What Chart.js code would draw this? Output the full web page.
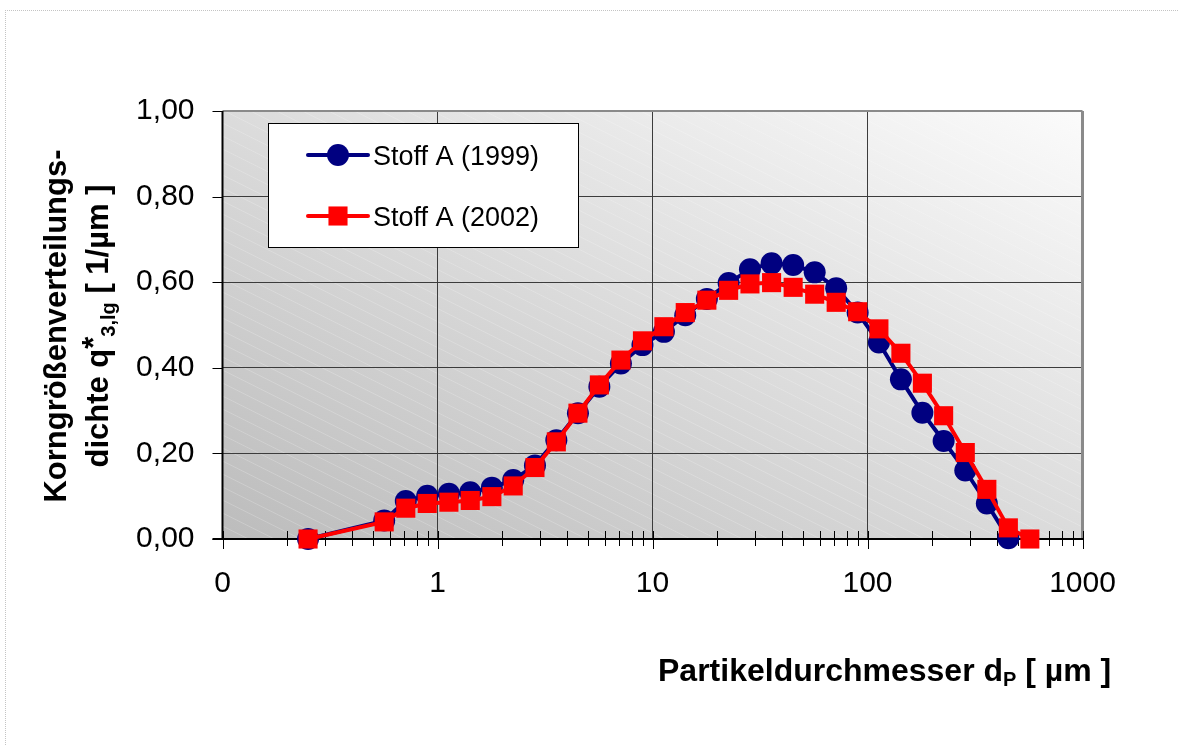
<!DOCTYPE html>
<html lang="de">
<head>
<meta charset="utf-8">
<title>Korngrößenverteilung Stoff A</title>
<script src="https://cdn.jsdelivr.net/npm/chart.js@4/dist/chart.umd.min.js"></script>
<style>
  html, body { margin: 0; padding: 0; background: #fff; overflow: hidden; }
  #frame { position: absolute; left: 5px; top: 10px; width: 1300px; height: 900px;
           border-left: 1px dotted #c4c4c4; border-top: 1px dotted #c4c4c4; }
  #wrap { position: absolute; left: 0; top: 0; width: 1178px; height: 745px; }
</style>
</head>
<body>
<div id="frame"></div>
<div id="wrap"><canvas id="chart" width="1178" height="745"></canvas></div>
<script>
// particle diameters in µm
const diameters1999 = [0.25, 0.565, 0.712, 0.896, 1.13, 1.42, 1.79, 2.25, 2.84, 3.57, 4.5, 5.66, 7.13, 8.98,
  11.3, 14.2, 17.9, 22.6, 28.4, 35.8, 45.1, 56.8, 71.5, 90.0, 113, 143, 180, 226, 285, 359, 452]
const diameters2002 = [0.25, 0.565, 0.712, 0.896, 1.13, 1.42, 1.79, 2.25, 2.84, 3.57, 4.5, 5.66, 7.13, 8.98,
  11.3, 14.2, 17.9, 22.6, 28.4, 35.8, 45.1, 56.8, 71.5, 90.0, 113, 143, 180, 226, 285, 359, 452, 569]

// density q*3,lg in 1/µm
const density1999 = [0, 0.043, 0.089, 0.101, 0.106, 0.109, 0.120, 0.138, 0.172, 0.231, 0.294, 0.356, 0.410, 0.453,
  0.484, 0.523, 0.561, 0.598, 0.630, 0.644, 0.640, 0.623, 0.586, 0.529, 0.459, 0.373, 0.295, 0.229, 0.160, 0.083, 0.002]
const density2002 = [0, 0.040, 0.072, 0.083, 0.086, 0.090, 0.099, 0.124, 0.167, 0.227, 0.294, 0.360, 0.418, 0.463,
  0.496, 0.529, 0.558, 0.581, 0.596, 0.599, 0.588, 0.572, 0.553, 0.531, 0.491, 0.434, 0.364, 0.288, 0.202, 0.116, 0.026, 0]

const seriesNames = ['Stoff A (1999)', 'Stoff A (2002)']
const xMajorTicks = [0.1, 1, 10, 100, 1000]
const xTickLabels = ['0', '1', '10', '100', '1000']
const yMin = 0, yMax = 1, yStep = 0.2

const FONT = "'Liberation Sans', Arial, sans-serif"

const toPoints = (xs, ys) => xs.map((x, i) => ({ x, y: ys[i] }))

// draws a run of text pieces (sub/superscripts) starting at x, baseline y
function drawRich(ctx, parts, x, y) {
  let cx = x
  parts.forEach(p => {
    ctx.font = p.font
    ctx.fillText(p.text, cx, y + (p.dy || 0))
    cx += ctx.measureText(p.text).width
  })
}

function richWidth(ctx, parts) {
  return parts.reduce((w, p) => { ctx.font = p.font; return w + ctx.measureText(p.text).width }, 0)
}

const plotDecor = {
  id: 'plotDecor',
  beforeDraw(chart) {
    const { ctx, chartArea: a } = chart
    const w = a.right - a.left, h = a.bottom - a.top
    const len = Math.hypot(w, h)
    const reach = 2 * w * h / len
    ctx.save()
    const g = ctx.createLinearGradient(a.left, a.bottom, a.left + h / len * reach, a.bottom - w / len * reach)
    g.addColorStop(0, '#bcbcbc')
    g.addColorStop(1, '#fbfbfb')
    ctx.fillStyle = g
    ctx.fillRect(a.left, a.top, w, h)
    // faint diagonal hatching
    ctx.beginPath()
    ctx.rect(a.left, a.top, w, h)
    ctx.clip()
    ctx.beginPath()
    ctx.strokeStyle = 'rgba(255,255,255,0.2)'
    ctx.lineWidth = 1
    for (let c = -w * 0.5; c < h; c += 13) {
      ctx.moveTo(a.left, a.top + c)
      ctx.lineTo(a.right, a.top + c + w * 0.5)
    }
    ctx.stroke()
    ctx.restore()
  },
  beforeDatasetsDraw(chart) {
    const { ctx, chartArea: a, scales: { x, y } } = chart
    ctx.save()
    ctx.strokeStyle = '#8a8a8a'
    ctx.lineWidth = 2
    ctx.beginPath(); ctx.moveTo(a.left, a.top); ctx.lineTo(a.right, a.top); ctx.stroke()
    ctx.lineWidth = 3
    ctx.beginPath(); ctx.moveTo(a.right, a.top); ctx.lineTo(a.right, a.bottom); ctx.stroke()

    ctx.strokeStyle = '#000'
    ctx.lineWidth = 1
    ctx.beginPath()
    x.ticks.forEach(t => {
      const px = Math.round(x.getPixelForValue(t.value)) + 0.5
      ctx.moveTo(px, a.bottom - 8)
      ctx.lineTo(px, a.bottom + (t.major ? 10 : 7))
    })
    y.ticks.forEach(t => {
      const py = Math.round(y.getPixelForValue(t.value)) + 0.5
      ctx.moveTo(a.left - 10, py)
      ctx.lineTo(a.left, py)
    })
    ctx.stroke()
    ctx.lineWidth = 2
    ctx.beginPath()
    ctx.moveTo(a.left, a.top); ctx.lineTo(a.left, a.bottom)
    ctx.moveTo(a.left - 10, a.bottom); ctx.lineTo(a.right + 1, a.bottom)
    ctx.stroke()
    ctx.restore()
  },
  afterDraw(chart) {
    const { ctx } = chart
    ctx.save()
    ctx.fillStyle = '#000'
    ctx.textBaseline = 'alphabetic'

    // legend box
    const bx = 268, by = 123, bw = 310, bh = 124
    ctx.fillStyle = '#fff'
    ctx.fillRect(bx, by, bw, bh)
    ctx.strokeStyle = '#000'
    ctx.lineWidth = 1
    ctx.strokeRect(bx + 0.5, by + 0.5, bw, bh)
    chart.data.datasets.forEach((ds, i) => {
      const ly = by + 32 + i * 61
      ctx.strokeStyle = ds.borderColor
      ctx.lineWidth = ds.borderWidth
      ctx.lineCap = 'round'
      ctx.beginPath(); ctx.moveTo(bx + 40, ly); ctx.lineTo(bx + 100, ly); ctx.stroke()
      ctx.fillStyle = ds.backgroundColor
      Chart.helpers.drawPoint(ctx, { pointStyle: ds.pointStyle, radius: ds.pointRadius, borderWidth: 0 }, bx + 70, ly)
      ctx.fillStyle = '#000'
      ctx.font = `27px ${FONT}`
      ctx.fillText(ds.label, bx + 105, ly + 10)
    })

    // x axis title
    const big = `bold 31px ${FONT}`, small = `bold 20px ${FONT}`
    ctx.fillStyle = '#000'
    drawRich(ctx, [
      { text: 'Partikeldurchmesser d', font: `bold 32px ${FONT}` },
      { text: 'P', font: small, dy: 5 },
      { text: ' [ µm ]', font: `bold 32px ${FONT}` }
    ], 658, 681)

    // y axis title, two lines rotated
    const line1 = [{ text: 'Korngrößenverteilungs-', font: big }]
    const line2 = [
      { text: 'dichte q', font: big },
      { text: '*', font: big, dy: -4 },
      { text: '3,lg', font: small, dy: 7 },
      { text: ' [ 1/µm ]', font: big }
    ]
    ctx.translate(0, 326)
    ctx.rotate(-Math.PI / 2)
    drawRich(ctx, line1, -richWidth(ctx, line1) / 2, 66)
    drawRich(ctx, line2, -richWidth(ctx, line2) / 2, 108)
    ctx.restore()
  }
}

new Chart(document.getElementById('chart'), {
  type: 'line',
  data: {
    datasets: [
      {
        label: seriesNames[0],
        data: toPoints(diameters1999, density1999),
        borderColor: '#000080',
        backgroundColor: '#000080',
        borderWidth: 4,
        pointStyle: 'circle',
        pointRadius: 11,
        pointBorderWidth: 0,
        clip: false,
        order: 2
      },
      {
        label: seriesNames[1],
        data: toPoints(diameters2002, density2002),
        borderColor: '#ff0000',
        backgroundColor: '#ff0000',
        borderWidth: 4,
        pointStyle: 'rect',
        pointRadius: 13.5,
        pointBorderWidth: 0,
        clip: false,
        order: 1
      }
    ]
  },
  options: {
    responsive: false,
    devicePixelRatio: 1,
    animation: false,
    events: [],
    layout: { padding: { left: 0, top: 111, right: 95.5, bottom: 0 } },
    plugins: { legend: { display: false }, tooltip: { enabled: false } },
    scales: {
      x: {
        type: 'logarithmic',
        min: xMajorTicks[0],
        max: xMajorTicks[xMajorTicks.length - 1],
        afterBuildTicks(scale) {
          const ticks = []
          xMajorTicks.forEach((m, i) => {
            ticks.push({ value: m, major: true })
            if (i < xMajorTicks.length - 1) {
              for (let k = 2; k <= 9; k++) ticks.push({ value: m * k, major: false })
            }
          })
          scale.ticks = ticks
        },
        afterFit(scale) { scale.height = 206 },
        grid: {
          color: c => (c.tick && c.tick.major ? '#3c3c3c' : 'transparent'),
          lineWidth: 1,
          drawTicks: false
        },
        border: { display: false },
        ticks: {
          autoSkip: false,
          maxRotation: 0,
          padding: 27,
          color: '#000',
          font: { family: FONT, size: 30 },
          callback: v => {
            const i = xMajorTicks.indexOf(v)
            return i >= 0 ? xTickLabels[i] : ''
          }
        }
      },
      y: {
        type: 'linear',
        min: yMin,
        max: yMax,
        afterFit(scale) { scale.width = 222.5 },
        grid: { color: '#3c3c3c', lineWidth: 1, drawTicks: false },
        border: { display: false },
        ticks: {
          stepSize: yStep,
          padding: 28,
          color: '#000',
          font: { family: FONT, size: 30 },
          callback: v => v.toFixed(2).replace('.', ',')
        }
      }
    }
  },
  plugins: [plotDecor]
})
</script>
</body>
</html>
